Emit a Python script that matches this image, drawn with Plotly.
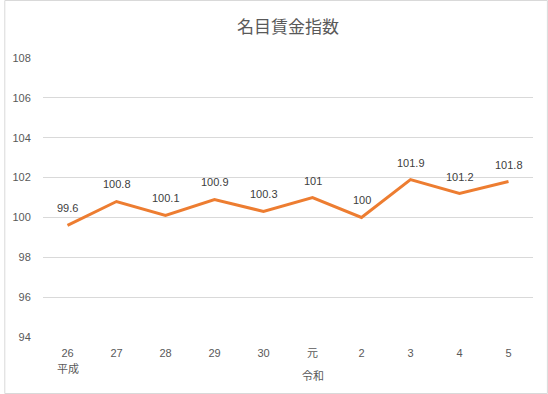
import plotly.graph_objects as go

categories = ["26", "27", "28", "29", "30", "元", "2", "3", "4", "5"]
values = [99.6, 100.8, 100.1, 100.9, 100.3, 101.0, 100.0, 101.9, 101.2, 101.8]
value_labels = ["99.6", "100.8", "100.1", "100.9", "100.3", "101", "100", "101.9", "101.2", "101.8"]
era_labels = [("26", "平成"), ("元", "令和")]
y_ticks = [94, 96, 98, 100, 102, 104, 106, 108]

W, H = 548, 394
ml, mr, mt, mb = 39, 15, 58, 57
pw, ph = W - ml - mr, H - mt - mb

font_family = "Liberation Sans, Noto Sans CJK JP, sans-serif"

fig = go.Figure()
fig.add_trace(go.Scatter(
    x=list(range(len(categories))), y=values,
    mode="lines",
    line=dict(color="#ED7D31", width=3),
    hoverinfo="skip",
))

annotations = [
    dict(text="名目賃金指数", x=0.5, xref="paper", y=(H - 25 - mb) / ph, yref="paper",
         showarrow=False, font=dict(size=17, color="#595959", family="Noto Sans CJK JP"),
         xanchor="center", yanchor="middle"),
]
for i, (v, lab) in enumerate(zip(values, value_labels)):
    annotations.append(dict(
        text=lab, x=i, xref="x", y=v, yref="y", showarrow=False,
        xanchor="center", yanchor="middle", yshift=17,
        font=dict(size=11, color="#404040", family=font_family)))
era_y = {"平成": 368, "令和": 375}
for cat, lab in era_labels:
    annotations.append(dict(
        text=lab, x=categories.index(cat), xref="x",
        y=(H - era_y[lab] - mb) / ph, yref="paper",
        showarrow=False, font=dict(size=11, color="#595959", family="Noto Sans CJK JP"),
        xanchor="center", yanchor="middle"))

fig.update_layout(
    width=W, height=H,
    margin=dict(l=ml, r=mr, t=mt, b=mb),
    paper_bgcolor="white", plot_bgcolor="white",
    showlegend=False,
    font=dict(family=font_family, color="#595959", size=11),
    xaxis=dict(
        range=[-0.5, len(categories) - 0.5],
        tickmode="array", tickvals=list(range(len(categories))), ticktext=categories,
        showgrid=False, zeroline=False, showline=False,
        ticks="outside", ticklen=6, tickcolor="rgba(0,0,0,0)",
        tickfont=dict(size=11, color="#595959", family=font_family),
    ),
    yaxis=dict(
        range=[94, 108], tickmode="array", tickvals=y_ticks,
        showgrid=True, gridcolor="#D9D9D9", gridwidth=1,
        zeroline=False, showline=False,
        ticks="outside", ticklen=9, tickcolor="rgba(0,0,0,0)",
        tickfont=dict(size=11, color="#595959", family=font_family),
    ),
    annotations=annotations,
    shapes=[dict(type="rect", xref="paper", yref="paper",
                 x0=(-ml + 0.5) / pw, x1=1 + (mr - 0.5) / pw,
                 y0=(-mb + 0.5) / ph, y1=1 + (mt - 0.5) / ph,
                 line=dict(color="#D9D9D9", width=1), fillcolor="rgba(0,0,0,0)")],
)

fig.write_html("out.html", config={"displayModeBar": False},
               post_script="document.body.style.margin='0';")
